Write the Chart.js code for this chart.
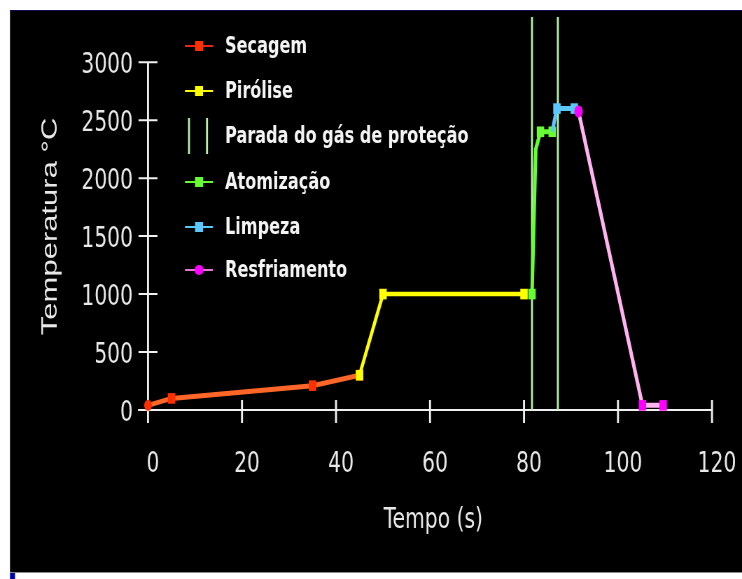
<!DOCTYPE html>
<html>
<head>
<meta charset="utf-8">
<script src="https://cdn.jsdelivr.net/npm/chart.js@4.4.0/dist/chart.umd.min.js"></script>
<style>
  html, body { margin: 0; padding: 0; background: #fff; overflow: hidden; }
  #grafico { display: block; width: 742px; height: 579px; }
</style>
</head>
<body>
<!-- o original é uma imagem achatada na horizontal: desenha-se mais largo e encolhe-se com CSS -->
<canvas id="grafico" width="1060" height="579" style="width:742px;height:579px"></canvas>
<script>
// Programa de temperatura (forno de grafite)
const xTicks = [0, 20, 40, 60, 80, 100, 120];
const yTicks = [0, 500, 1000, 1500, 2000, 2500, 3000];

const secagemX = [0, 5, 35, 45];
const secagemY = [40, 100, 210, 300];
const piroliseX = [45, 50, 80];
const piroliseY = [300, 1000, 1000];
const atomizacaoX = [81.7, 82.5, 83.5, 86];
const atomizacaoY = [1000, 2250, 2400, 2400];
const limpezaX = [86, 87, 90.7];
const limpezaY = [2400, 2600, 2600];
const resfriamentoX = [91.6, 105.2, 109.6];
const resfriamentoY = [2575, 40, 40];
const paradaX = [81.7, 87.2];
const paradaTopo = 3390;

const K = 0.7;           // fator de achatamento horizontal
const W = 1060;          // largura lógica do canvas
const sx = v => v / K;   // px da tela -> px lógicos
const fonte = "'DejaVu Sans', Verdana, sans-serif";

function pontos(xs, ys) {
    return xs.map((x, i) => ({ x: x, y: ys[i] }));
}

// duas linhas verticais num só dataset, separadas por um ponto nulo
let paradaDados = [];
paradaX.forEach((x, i) => {
    if (i > 0) paradaDados.push({ x: x, y: null });
    paradaDados.push({ x: x, y: 0 }, { x: x, y: paradaTopo });
});

// fundo preto, eixos com marcas cruzadas e legenda dentro do gráfico
const desenho = {
    id: 'desenho',
    beforeDraw(chart) {
        const ctx = chart.ctx;
        ctx.save();
        ctx.fillStyle = '#ffffff';
        ctx.fillRect(0, 0, W, 579);
        ctx.fillStyle = '#000000';
        ctx.fillRect(sx(10), 10, W - sx(10), 562);
        ctx.fillStyle = '#10104a';
        ctx.fillRect(sx(10), 10, W - sx(10), 1);
        ctx.fillStyle = '#8a8a8a';
        ctx.fillRect(sx(10), 572, W - sx(10), 1);
        ctx.fillStyle = '#0000a8';
        ctx.fillRect(sx(10), 573, sx(5), 6);
        ctx.restore();
    },
    beforeDatasetsDraw(chart) {
        const { ctx, scales: { x, y } } = chart;
        const x0 = x.getPixelForValue(0);
        const y0 = y.getPixelForValue(0);
        ctx.save();
        ctx.strokeStyle = '#f0f0f0';
        // traços horizontais
        ctx.lineWidth = 2;
        ctx.beginPath();
        ctx.moveTo(x0 - sx(10), y0);
        ctx.lineTo(x.getPixelForValue(120), y0);
        yTicks.forEach(v => {
            const p = y.getPixelForValue(v);
            ctx.moveTo(x0 - sx(9.5), p);
            ctx.lineTo(x0 + sx(9.5), p);
        });
        ctx.stroke();
        // traços verticais
        ctx.lineWidth = sx(2);
        ctx.beginPath();
        ctx.moveTo(x0, y.getPixelForValue(3000));
        ctx.lineTo(x0, y0 + 13);
        xTicks.forEach(v => {
            const p = x.getPixelForValue(v);
            ctx.moveTo(p, y0 - 10);
            ctx.lineTo(p, y0 + 13);
        });
        ctx.stroke();
        ctx.restore();
    },
    afterDraw(chart) {
        const ctx = chart.ctx;
        const linhas = [46, 91, 136, 182, 227, 270];
        ctx.save();
        ctx.font = 'bold 23px ' + fonte;
        ctx.textBaseline = 'middle';
        chart.data.datasets.forEach((ds, i) => {
            const yy = linhas[i];
            if (ds.vertical) {
                ctx.strokeStyle = ds.borderColor;
                ctx.lineWidth = sx(2);
                ctx.beginPath();
                ctx.moveTo(sx(189), yy - 18);
                ctx.lineTo(sx(189), yy + 18);
                ctx.moveTo(sx(207), yy - 18);
                ctx.lineTo(sx(207), yy + 18);
                ctx.stroke();
            } else {
                ctx.strokeStyle = ds.corLegenda;
                ctx.lineWidth = 2;
                ctx.beginPath();
                ctx.moveTo(sx(185), yy);
                ctx.lineTo(sx(213), yy);
                ctx.stroke();
                ctx.fillStyle = ds.corPonto;
                if (ds.marcaLegenda === 'circle') {
                    ctx.beginPath();
                    ctx.ellipse(sx(199), yy, sx(4.5), 5, 0, 0, Math.PI * 2);
                    ctx.fill();
                } else {
                    ctx.fillRect(sx(195), yy - 5, sx(8), 10);
                }
            }
            ctx.fillStyle = '#f4f4f4';
            ctx.fillText(ds.label, sx(225), yy + 1);
        });
        ctx.restore();
    }
};

var ctx = document.getElementById('grafico').getContext('2d');
var grafico = new Chart(ctx, {
    type: 'scatter',
    data: {
        datasets: [{
            label: 'Secagem',
            data: pontos(secagemX, secagemY),
            showLine: true,
            borderColor: '#ff6628',
            borderWidth: 5,
            corLegenda: '#e8261a',
            corPonto: '#ff3000',
            pointBackgroundColor: '#ff3000',
            pointBorderWidth: 0,
            pointStyle: ['circle', 'rect', 'rect', 'rect'],
            pointRadius: [5.5, 7.5, 7.5, 7.5],
            order: 5
        }, {
            label: 'Pirólise',
            data: pontos(piroliseX, piroliseY),
            showLine: true,
            borderColor: '#ffff00',
            borderWidth: 4.5,
            corLegenda: '#ffff00',
            corPonto: '#ffff00',
            pointBackgroundColor: '#ffff00',
            pointBorderWidth: 0,
            pointStyle: 'rect',
            pointRadius: 7.5,
            order: 4
        }, {
            label: 'Parada do gás de proteção',
            data: paradaDados,
            vertical: true,
            showLine: true,
            spanGaps: false,
            borderColor: '#b8f0a8',
            borderWidth: sx(2),
            pointRadius: 0,
            order: 6
        }, {
            label: 'Atomização',
            data: pontos(atomizacaoX, atomizacaoY),
            showLine: true,
            borderColor: '#66ff33',
            borderWidth: 5,
            corLegenda: '#66ff33',
            corPonto: '#66ff33',
            pointBackgroundColor: '#66ff33',
            pointBorderWidth: 0,
            pointStyle: 'rect',
            pointRadius: [7.5, 0, 7.5, 7.5],
            order: 3
        }, {
            label: 'Limpeza',
            data: pontos(limpezaX, limpezaY),
            showLine: true,
            borderColor: '#5ac8fa',
            borderWidth: 5,
            corLegenda: '#5ac8fa',
            corPonto: '#5ac8fa',
            pointBackgroundColor: '#5ac8fa',
            pointBorderWidth: 0,
            pointStyle: 'rect',
            pointRadius: [0, 7.5, 7.5],
            order: 2
        }, {
            label: 'Resfriamento',
            data: pontos(resfriamentoX, resfriamentoY),
            showLine: true,
            borderColor: '#ffb4f0',
            borderWidth: 5,
            corLegenda: '#e07ad0',
            corPonto: '#ff00ff',
            marcaLegenda: 'circle',
            pointBackgroundColor: '#ff00ff',
            pointBorderWidth: 0,
            pointStyle: ['circle', 'rect', 'rect'],
            pointRadius: [6, 7.5, 7.5],
            order: 1
        }]
    },
    options: {
        responsive: false,
        animation: false,
        clip: false,
        devicePixelRatio: 1,
        layout: { padding: { top: 17, right: W - sx(712), left: 0, bottom: 0 } },
        plugins: {
            legend: { display: false },
            tooltip: { enabled: false }
        },
        scales: {
            x: {
                type: 'linear',
                min: 0,
                max: 120,
                afterBuildTicks: s => { s.ticks = xTicks.map(v => ({ value: v })); },
                afterFit: s => {
                    s.height = 169;
                    s.paddingLeft = 0;
                    s.paddingRight = 0;
                },
                grid: { display: false, drawTicks: false },
                border: { display: false },
                ticks: {
                    color: '#e8e8e8',
                    font: { family: fonte, size: 29 },
                    padding: 37,
                    labelOffset: sx(5),
                    maxRotation: 0,
                    autoSkip: false,
                    callback: v => String(v)
                },
                title: {
                    display: true,
                    text: ' Tempo (s)',
                    color: '#e8e8e8',
                    font: { family: fonte, size: 29 },
                    padding: { top: 0, bottom: 41 }
                }
            },
            y: {
                type: 'linear',
                min: 0,
                max: paradaTopo,
                afterBuildTicks: s => { s.ticks = yTicks.map(v => ({ value: v })); },
                afterFit: s => {
                    s.width = sx(148);
                    s.paddingTop = 0;
                    s.paddingBottom = 0;
                },
                grid: { display: false, drawTicks: false },
                border: { display: false },
                ticks: {
                    color: '#e8e8e8',
                    font: { family: fonte, size: 29 },
                    padding: sx(15),
                    labelOffset: 3,
                    autoSkip: false,
                    callback: v => String(v)
                },
                title: {
                    display: true,
                    text: 'Temperatura °C   ',
                    color: '#e8e8e8',
                    font: { family: "'Liberation Sans', Arial, sans-serif", size: 31 },
                    padding: { top: sx(51) - 18.6, bottom: 0 }
                }
            }
        }
    },
    plugins: [desenho]
});
</script>
</body>
</html>
